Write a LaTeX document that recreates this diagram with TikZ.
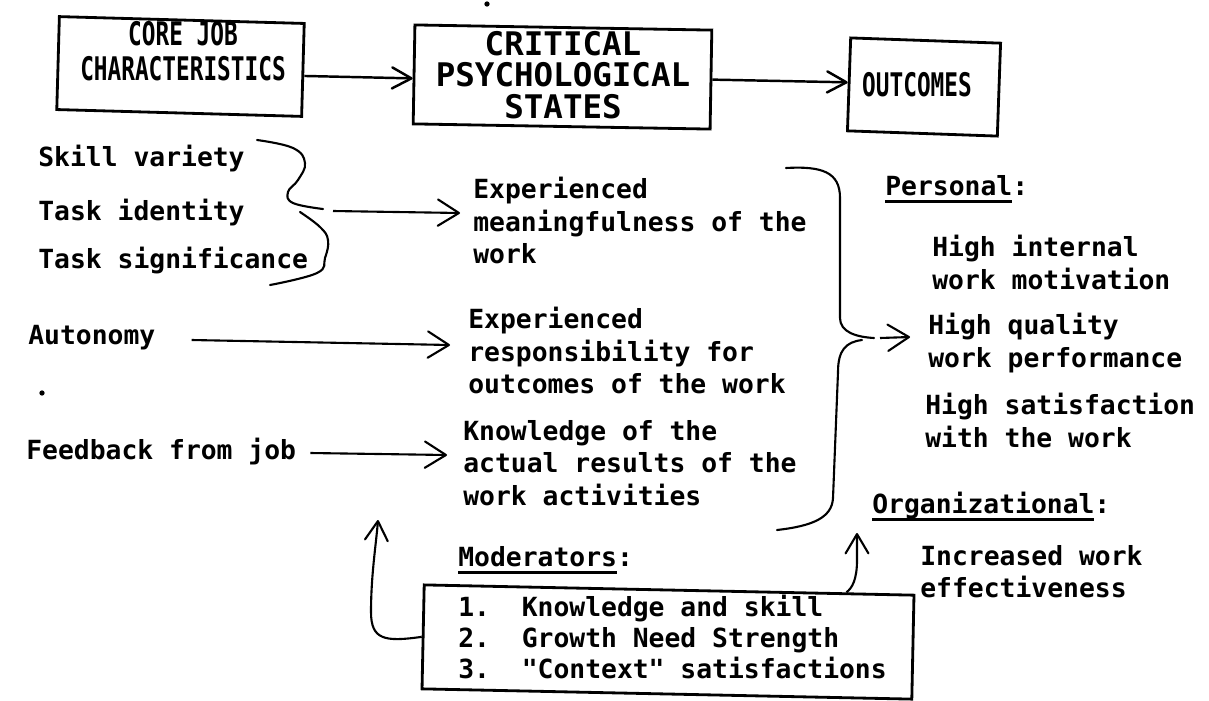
\documentclass[tikz,border=0pt]{standalone}
\usepackage{fontspec}
\usetikzlibrary{arrows.meta,calc}
\newfontfamily\twfont{DejaVu Sans Mono}[Ligatures=TeXOff]
\newfontfamily\hdnarrow{DejaVu Sans Mono}[FakeStretch=0.70]
\newfontfamily\hdwide{DejaVu Sans Mono}[FakeStretch=1.0]
% heavy underline for the section labels
\newcommand\thickul[1]{\setbox0\hbox{#1}\rlap{\rule[-4.6pt]{\wd0}{1.5pt}}\box0}
\begin{document}
\begin{tikzpicture}[x=0.02cm, y=-0.02cm,
  txt/.style={font={\twfont\bfseries\fontsize{15}{18.5}\selectfont}, inner sep=0pt, align=left},
  hbox/.style={draw, line width=1.6pt, inner sep=0pt},
  htxt/.style={inner sep=0pt, align=center},
  arr/.style={line width=1.2pt, -{Straight Barb[length=12pt,width=15pt,round]}},
  harr/.style={line width=1.4pt, -{Straight Barb[length=11pt,width=12pt,round]}},
  uarr/.style={line width=1.2pt, -{Straight Barb[length=11pt,width=13pt,round]}},
  bracepath/.style={line width=1.2pt, line cap=round}]
\useasboundingbox (0,0) rectangle (1209,700);
\fill[white] (0,0) rectangle (1209,700);

% header row
\node[hbox, minimum width=4.9cm, minimum height=1.86cm, rotate=-1.6] (core) at (180.5,66.5) {};
\node[htxt, font={\hdnarrow\bfseries\fontsize{18.5}{19.9}\selectfont}, anchor=north] (coret) at (183,21) {CORE JOB\\CHARACTERISTICS};
\node[hbox, minimum width=5.94cm, minimum height=1.98cm, rotate=-1] (crit) at (562.5,77) {};
\node[htxt, font={\hdwide\bfseries\fontsize{18.5}{17.9}\selectfont}, anchor=north] (critt) at (563,31) {CRITICAL\\PSYCHOLOGICAL\\STATES};
\node[hbox, minimum width=3cm, minimum height=1.86cm, rotate=-2] (outc) at (924,87) {};
\node[htxt, font={\hdnarrow\bfseries\fontsize{18.5}{19.9}\selectfont}, anchor=north] (outct) at (917,72) {OUTCOMES};

\draw[harr] ($(core.east)+(0,6)$) -- ($(crit.west)+(0,4)$);
\draw[harr] ($(crit.east)+(0,0)$) -- ($(outc.west)+(0,-2)$);

% core job characteristics
\node[txt, anchor=base west] (skill) at (38,166) {Skill variety};
\node[txt, anchor=base west] (tident) at (38,220) {Task identity};
\node[txt, anchor=base west] (tsig) at (38,268) {Task significance};
\node[txt, anchor=base west] (auto) at (28,344) {Autonomy};
\node[txt, anchor=base west] (feed) at (26,459) {Feedback from job};

% psychological states
\node[txt, anchor=north west] (mean) at (473,177) {Experienced\\meaningfulness of the\\work};
\node[txt, anchor=north west] (resp) at (468,307) {Experienced\\responsibility for\\outcomes of the work};
\node[txt, anchor=north west] (know) at (463,420) {Knowledge of the\\actual results of the\\work activities};

% outcomes
\node[txt, anchor=base west] (pers) at (885,195) {\thickul{Personal}:};
\node[txt, anchor=north west] (hint) at (932,235) {High internal\\work motivation};
\node[txt, anchor=north west] (hqual) at (928,313) {High quality\\work performance};
\node[txt, anchor=north west] (hsat) at (925,393) {High satisfaction\\with the work};
\node[txt, anchor=base west] (org) at (872,513) {\thickul{Organizational}:};
\node[txt, anchor=north west] (incr) at (920,545) {Increased work\\effectiveness};

% moderators
\node[txt, anchor=base west] (modl) at (458,566) {\thickul{Moderators}:};
\node[hbox, minimum width=9.8cm, minimum height=2.08cm, rotate=-1.2] (modbox) at (668,642) {};
\node[txt, font={\twfont\bfseries\fontsize{15}{17.6}\selectfont}, anchor=north west] (modlist) at (458,595)
  {1.\ \ Knowledge and skill\\2.\ \ Growth Need Strength\\3.\ \ "Context" satisfactions};

% brace gathering the first three characteristics
\draw[bracepath] plot[smooth, tension=0.7] coordinates {(257,140) (293,148) (305,163) (298,180) (288,192) (293,203) (323,209)};
\draw[bracepath] plot[smooth, tension=0.7] coordinates {(300,212) (320,227) (328,240) (325,258) (317,273) (270,285)};
\coordinate (lbtip) at (333,211);
\draw[arr] (lbtip) -- ($(mean.north west)+(-13,36)$);
\draw[arr] ($(auto.base east)+(36,-4)$) -- ($(resp.north west)+(-18,38)$);
\draw[arr] ($(feed.base east)+(14,-6)$) -- ($(know.north west)+(-16,35)$);

% brace gathering the three states
\draw[bracepath] (786,168) .. controls (822,166) and (840,172) .. (840,198) -- (840,318) .. controls (840,332) and (856,337) .. (874,338);
\draw[bracepath] (862,340) .. controls (846,342) and (838,350) .. (838,372) -- (833,498) .. controls (832,518) and (812,526) .. (777,530);
\coordinate (rbtip) at (880,338);
\draw[arr] (rbtip) -- ($(hqual.north west)+(-18,24)$);

% moderator links
\coordinate (upL) at (378,520);
\coordinate (upR) at (857,533);
\draw[uarr] (modbox.west) .. controls (385,642) and (371,640) .. (371,612) .. controls (371,575) and (376,545) .. (upL);
\draw[uarr] ($(modbox.north west)!0.86!(modbox.north east)$) .. controls (852,588) and (857,580) .. (857,560) -- (upR);

% stray marks
\fill (42,393) circle[radius=1.5pt];
\fill (487,4) circle[radius=1.5pt];
\end{tikzpicture}
\end{document}
